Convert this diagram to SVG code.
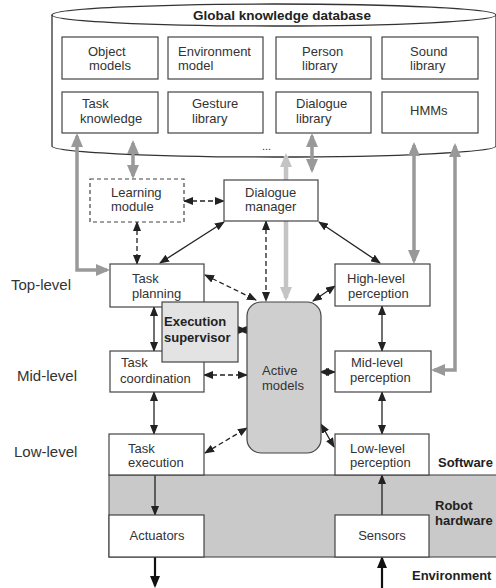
<svg xmlns="http://www.w3.org/2000/svg" width="496" height="588" viewBox="0 0 496 588">
<style>
text{font-family:"Liberation Sans",Arial,sans-serif;font-size:13px;fill:#333}
.b{font-weight:bold;fill:#222}
.lvl{font-size:15px}
.box{fill:#fff;stroke:#444;stroke-width:1.2}
.db{fill:#fff;stroke:#333;stroke-width:1.3}
.k{fill:none;stroke:#222;stroke-width:1.3;marker-start:url(#ah);marker-end:url(#ah)}
.d{stroke-dasharray:5,3}
.g{fill:none;stroke:#999;stroke-width:3.5;marker-start:url(#gh);marker-end:url(#gh)}
.lg{fill:none;stroke:#c4c4c4;stroke-width:4.5;marker-start:url(#lh);marker-end:url(#lh)}
.one{fill:none;stroke:#222;stroke-width:1.3;marker-end:url(#ah)}
.thick{fill:none;stroke:#111;stroke-width:2.2;marker-end:url(#bh)}
</style>
<defs>
<marker id="ah" markerUnits="userSpaceOnUse" markerWidth="10" markerHeight="8" refX="9" refY="4" orient="auto-start-reverse"><path d="M0,0 L10,4 L0,8 z" fill="#222"/></marker>
<marker id="bh" markerUnits="userSpaceOnUse" markerWidth="12" markerHeight="10" refX="10" refY="5" orient="auto-start-reverse"><path d="M0,0 L12,5 L0,10 z" fill="#111"/></marker>
<marker id="gh" markerUnits="userSpaceOnUse" markerWidth="14" markerHeight="12" refX="11" refY="6" orient="auto-start-reverse"><path d="M0,0 L14,6 L0,12 z" fill="#999"/></marker>
<marker id="lh" markerUnits="userSpaceOnUse" markerWidth="14" markerHeight="12" refX="11" refY="6" orient="auto-start-reverse"><path d="M0,0 L14,6 L0,12 z" fill="#c4c4c4"/></marker>
</defs>

<g id="database">
<path class="db" d="M52,15 V146 A222,11 0 0 0 496,146 V15"/>
<ellipse class="db" cx="274" cy="15" rx="222" ry="11"/>
<text class="b" x="282" y="20" text-anchor="middle" style="font-size:13.5px">Global knowledge database</text>
<text x="262" y="150" style="font-size:11px">...</text>
</g>
<g id="object-models"><rect class="box" x="62" y="37" width="96" height="42"/><text x="88" y="56">Object</text><text x="89" y="70">models</text></g>
<g id="environment-model"><rect class="box" x="168" y="37" width="95" height="42"/><text x="178" y="56">Environment</text><text x="178" y="70">model</text></g>
<g id="person-library"><rect class="box" x="276" y="37" width="95" height="42"/><text x="302" y="56">Person</text><text x="302" y="70">library</text></g>
<g id="sound-library"><rect class="box" x="382" y="37" width="96" height="42"/><text x="410" y="56">Sound</text><text x="410" y="70">library</text></g>
<g id="task-knowledge"><rect class="box" x="62" y="92" width="96" height="41"/><text x="82" y="108">Task</text><text x="80" y="123">knowledge</text></g>
<g id="gesture-library"><rect class="box" x="168" y="92" width="95" height="41"/><text x="192" y="108">Gesture</text><text x="192" y="123">library</text></g>
<g id="dialogue-library"><rect class="box" x="276" y="92" width="95" height="41"/><text x="296" y="108">Dialogue</text><text x="296" y="123">library</text></g>
<g id="hmms"><rect class="box" x="382" y="92" width="96" height="41"/><text x="410" y="115">HMMs</text></g>

<g id="hardware-region"><rect x="109" y="475" width="400" height="82" fill="#c9c9c9" stroke="#555" stroke-width="1.2"/></g>

<g id="connectors">
<path class="g" d="M77,136 V270 H107"/>
<path class="g" d="M133,143 V176"/>
<path class="g" d="M312,136 V170"/>
<path class="g" d="M414,145 V261"/>
<path class="g" d="M455,146 V370 H434"/>
<path class="lg" d="M286,156 V298"/>

<path class="k" d="M224,222 L160,263"/>
<path class="k" d="M319,222 L380,263"/>
<path class="k" d="M154,307 V351"/>
<path class="k" d="M154,392 V434"/>
<path class="k" d="M238,330 H247"/>
<path class="k" d="M313,301 L335,286"/>
<path class="k" d="M320,372 H335"/>
<path class="k" d="M321,424 L334,447"/>
<path class="k" d="M382,306 V351"/>
<path class="k" d="M382,392 V434"/>

<path class="k d" d="M184,201 H224"/>
<path class="k d" d="M137,222 V264"/>
<path class="k d" d="M266,221 V301"/>
<path class="k d" d="M205,275 L256,300"/>
<path class="k d" d="M204,375 H247"/>
<path class="k d" d="M205,453 L247,428"/>

<path class="one" d="M155,475 V515"/>
<path class="one" d="M382,515 V475"/>
<path class="thick" d="M155,557 V586"/>
<path class="thick" d="M382,588 V558"/>
</g>

<g id="learning-module"><rect class="box" x="90" y="179" width="94" height="43" style="stroke-dasharray:4,3"/><text x="111" y="197">Learning</text><text x="111" y="211">module</text></g>
<g id="dialogue-manager"><rect class="box" x="224" y="180" width="94" height="41"/><text x="245" y="197">Dialogue</text><text x="245" y="211">manager</text></g>
<g id="task-planning"><rect class="box" x="110" y="264" width="94" height="43"/><text x="132" y="283">Task</text><text x="132" y="298">planning</text></g>
<g id="high-level-perception"><rect class="box" x="335" y="264" width="95" height="42"/><text x="347" y="283">High-level</text><text x="348" y="298">perception</text></g>
<g id="task-coordination"><rect class="box" x="110" y="351" width="94" height="41"/><text x="121" y="367">Task</text><text x="120" y="383">coordination</text></g>
<g id="execution-supervisor"><rect x="162" y="302" width="76" height="60" fill="#e3e3e3" stroke="#444" stroke-width="1.2"/><text class="b" x="164" y="326">Execution</text><text class="b" x="164" y="342">supervisor</text></g>
<g id="active-models"><rect x="247" y="302" width="74" height="151" rx="14" fill="#cfcfcf" stroke="#444" stroke-width="1.2"/><text x="262" y="375">Active</text><text x="262" y="390">models</text></g>
<g id="mid-level-perception"><rect class="box" x="335" y="351" width="96" height="41"/><text x="351" y="367">Mid-level</text><text x="350" y="382">perception</text></g>
<g id="task-execution"><rect class="box" x="109" y="434" width="95" height="41"/><text x="128" y="453">Task</text><text x="128" y="467">execution</text></g>
<g id="low-level-perception"><rect class="box" x="335" y="434" width="94" height="41"/><text x="350" y="453">Low-level</text><text x="350" y="467">perception</text></g>
<g id="actuators"><rect class="box" x="109" y="515" width="95" height="42"/><text x="157" y="540" text-anchor="middle">Actuators</text></g>
<g id="sensors"><rect class="box" x="335" y="515" width="94" height="42"/><text x="382" y="540" text-anchor="middle">Sensors</text></g>

<g id="labels">
<text class="lvl" x="11" y="290">Top-level</text>
<text class="lvl" x="17" y="381">Mid-level</text>
<text class="lvl" x="14" y="457">Low-level</text>
<text class="b" x="438" y="467">Software</text>
<text class="b" x="435" y="510">Robot</text>
<text class="b" x="435" y="525">hardware</text>
<text class="b" x="412" y="580">Environment</text>
</g>
</svg>
